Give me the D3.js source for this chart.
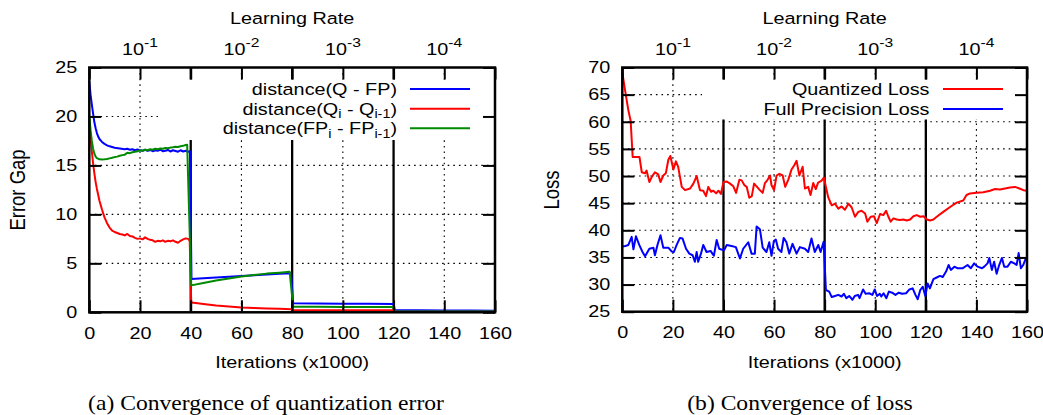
<!DOCTYPE html>
<html><head><meta charset="utf-8">
<script src="https://cdn.jsdelivr.net/npm/d3@7"></script>
<style>body{margin:0;background:#fff} text{white-space:pre}</style>
</head><body>
<svg id="c" width="1043" height="415"></svg>
<script>
// ---------- data ----------
const xTicks = [0,20,40,60,80,100,120,140,160];
const gridX = [20,60,100,140];
const phaseBounds = [40,80,120];
const lrTickPos = [20,60,100,140];
const lrExp = ["-1","-2","-3","-4"];
const errTicks = [0,5,10,15,20,25];
const lossTicks = [25,30,35,40,45,50,55,60,65,70];

const errLegend = [
  [{t:"distance(Q - FP)"}],
  [{t:"distance(Q"},{t:"i",sub:1},{t:" - Q"},{t:"i-1",sub:1},{t:")"}],
  [{t:"distance(FP"},{t:"i",sub:1},{t:" - FP"},{t:"i-1",sub:1},{t:")"}]
];
const lossLegend = ["Quantized Loss","Full Precision Loss"];

// distance(Q - FP)
const distQFP = [[0,23.6],[0.5,22.2],[1,21.2],[1.5,20.3],[2,19.4],[2.5,18.8],[3,18.3],[3.5,17.95],[4,17.7],[5,17.4],[6,17.2],[7,17.05],[8,16.95],[10,16.8],[12,16.72],[14,16.65],
[15,16.7],[16,16.6],[17,16.65],[18,16.55],[19,16.62],[20,16.55],[21,16.5],[22,16.6],[23,16.48],[24,16.58],[25,16.45],[26,16.55],[27,16.5],[28,16.62],[29,16.45],[30,16.5],[31,16.58],[32,16.42],[33,16.55],[34,16.48],[35,16.4],[36,16.55],[37,16.42],[38,16.5],[39,16.4],[39.7,16.45],
[40.3,3.4],[45,3.48],[50,3.56],[55,3.63],[60,3.7],[65,3.78],[70,3.85],[75,3.93],[79.6,4.0],[80.4,0.92],[90,0.9],[100,0.88],[110,0.87],[120,0.85],[120.5,0.22],[130,0.2],[140,0.19],[150,0.18],[160,0.17]];
// distance(Q_i - Q_i-1)
const distQ = [[0,19.5],[0.5,17.8],[1,16.4],[1.5,15.2],[2,14.2],[2.5,13.3],[3,12.6],[3.5,12.0],[4,11.4],[5,10.5],[6,9.7],[7,9.1],[8,8.65],[9,8.35],[10,8.2],[11,8.1],[12,8.0],[13,7.95],[14,7.85],[15,8.0],[16,7.8],[17,7.75],[18,7.6],[19,7.5],[20,7.55],[21,7.45],[22,7.65],[23,7.5],[24,7.4],[25,7.35],[26,7.2],[27,7.3],[28,7.25],[29,7.35],[30,7.2],[31,7.3],[32,7.25],[33,7.35],[34,7.2],[35,7.1],[36,7.3],[37,7.45],[38,7.55],[39,7.5],[39.6,7.3],
[40.2,1.0],[42,0.95],[45,0.85],[50,0.7],[55,0.6],[60,0.5],[65,0.45],[70,0.4],[75,0.35],[79.7,0.32],[80.3,0.23],[90,0.22],[100,0.21],[110,0.2],[119.8,0.2],[120.3,0.07],[130,0.06],[140,0.05],[150,0.05],[160,0.05]];
// distance(FP_i - FP_i-1)
const distFP = [[0,20.1],[0.5,18.6],[1,17.5],[1.5,16.7],[2,16.2],[2.5,15.9],[3,15.75],[4,15.62],[5,15.6],[6,15.62],[7,15.66],[8,15.72],[9,15.78],[10,15.85],[11,15.9],[12,15.98],[13,16.05],[14,16.1],[15,16.3],[16,16.25],[17,16.35],[18,16.4],[19,16.45],[20,16.55],[21,16.5],[22,16.6],[23,16.55],[24,16.65],[25,16.6],[26,16.7],[27,16.65],[28,16.72],[29,16.7],[30,16.78],[31,16.75],[32,16.82],[33,16.85],[34,16.9],[35,16.88],[36,16.95],[37,17.0],[38,17.08],[38.6,17.1],
[40.2,2.75],[45,3.0],[50,3.25],[55,3.45],[60,3.65],[65,3.8],[70,3.95],[75,4.05],[79,4.15],[80.4,0.57],[90,0.56],[100,0.55],[110,0.54],[119.8,0.53],[120.4,0.1],[130,0.09],[140,0.08],[150,0.08],[160,0.08]];

// Quantized Loss
const quantLoss = [[0,69.1],[1.1,65.8],[2.4,62.1],[3.3,60.2],[4.1,53.5],[6.8,53.5],[7.7,50.7],[9.0,50.5],[9.6,51.0],[10.7,48.9],[11.6,49.8],[12.9,50.7],[14.2,50.3],[15.1,48.9],[16.2,50.1],[17.2,50.5],[18.2,53.0],[19.0,53.7],[20.2,51.2],[21.2,52.7],[22.1,51.7],[23.5,48.0],[24.8,47.4],[26.8,47.7],[28.1,48.6],[29.4,50.0],[30.7,47.4],[32.0,47.3],[33.1,46.3],[34.0,48.0],[35.1,47.1],[36.0,47.3],[37.1,46.8],[38.0,47.3],[39.0,46.7],[40.0,48.9],[41.3,49.0],[42.6,48.6],[43.9,48.1],[45.0,46.9],[46.3,49.3],[47.2,49.2],[48.3,48.3],[49.2,48.0],[50.2,46.0],[51.2,46.3],[52.1,48.6],[53.1,48.1],[54.2,47.5],[55.5,46.9],[56.4,48.7],[57.3,49.2],[58.4,50.1],[59.0,48.3],[60.0,47.4],[61.0,50.1],[62.1,50.4],[63.4,50.1],[64.4,48.0],[65.6,49.3],[66.9,51.2],[68.0,52.0],[68.9,52.8],[70.0,50.1],[71.3,51.7],[72.2,47.7],[73.5,48.0],[74.4,46.5],[75.5,48.7],[76.5,47.6],[77.4,48.8],[78.7,49.1],[79.7,49.7],[80.5,48.0],[81.4,46.1],[82.8,44.6],[84.1,44.9],[85.4,44.0],[86.7,44.4],[88.0,43.8],[89.4,44.9],[90.7,44.2],[92.0,42.5],[93.3,43.4],[94.6,43.6],[96.0,43.1],[96.9,41.6],[98.2,42.5],[99.5,42.6],[100.6,41.3],[101.9,43.0],[103.2,42.8],[104.3,43.6],[105.2,42.5],[106.1,41.6],[107.2,42.2],[108.5,42.0],[109.8,41.9],[111.1,42.0],[112.5,41.8],[113.8,42.0],[115.1,42.6],[116.4,42.8],[117.8,42.5],[119.1,42.6],[120.4,42.0],[121.7,41.8],[123.0,42.0],[124.3,42.5],[126.9,43.4],[129.6,44.3],[132.2,45.1],[134.8,45.5],[136.1,46.5],[137.5,46.8],[140.1,46.9],[142.7,47.0],[145.4,47.3],[147.4,47.6],[149.3,47.5],[151.3,47.7],[153.3,47.9],[155.3,48.0],[157.0,47.7],[158.6,47.4],[160,47.3]];
// Full Precision Loss
const fpLoss = [[0,37.0],[1.2,37.1],[2.4,37.3],[3.7,38.8],[4.4,36.5],[5.4,38.9],[6.7,37.3],[8.0,36.0],[9.0,35.2],[10.7,36.6],[12.3,36.8],[12.9,35.4],[13.9,37.3],[15.1,39.1],[16.2,36.8],[18.2,36.8],[19.5,36.1],[20.4,36.0],[21.5,37.3],[22.8,38.6],[23.8,38.5],[25.2,36.6],[26.5,35.7],[27.8,35.4],[28.7,34.2],[29.4,36.0],[30.0,34.2],[31.1,35.7],[32.0,37.3],[33.3,36.0],[34.9,36.2],[36.2,35.3],[37.3,38.2],[38.3,36.6],[40.2,36.3],[41.3,37.3],[43.2,37.1],[44.9,36.9],[46.5,34.8],[47.8,36.6],[49.8,37.8],[51.1,35.7],[52.4,35.7],[53.1,40.7],[54.4,40.2],[55.5,36.8],[57.0,36.0],[58.1,37.8],[59.0,35.3],[59.9,38.0],[60.7,38.3],[61.6,36.6],[62.9,36.0],[63.8,38.6],[64.9,37.8],[66.0,35.7],[67.3,37.5],[68.9,35.7],[70.2,36.9],[72.2,36.6],[73.5,36.0],[74.8,38.5],[76.1,36.0],[77.5,37.3],[78.4,36.0],[79.6,37.9],[80.5,29.0],[81.8,28.7],[82.8,27.7],[84.1,27.9],[85.4,28.1],[86.7,27.8],[87.6,28.3],[88.6,27.5],[89.7,27.9],[91.0,27.2],[91.9,27.9],[93.2,28.1],[93.8,27.5],[95.2,29.1],[96.2,28.3],[97.6,28.4],[98.9,28.1],[99.8,29.1],[100.7,27.9],[101.8,28.3],[102.4,27.8],[103.3,28.4],[104.4,27.5],[105.4,28.7],[106.7,28.5],[108.0,28.1],[109.3,28.5],[110.6,28.3],[112.2,28.4],[113.5,29.1],[114.8,29.3],[115.9,28.1],[116.8,27.3],[117.8,29.0],[118.8,29.6],[119.8,27.9],[120.7,30.2],[121.6,29.3],[123.0,31.0],[124.3,31.3],[125.6,31.6],[126.7,31.4],[128.0,32.4],[129.0,33.6],[129.9,32.7],[131.3,33.3],[132.6,33.0],[134.5,33.0],[136.5,33.6],[137.8,33.0],[139.1,33.9],[140.5,33.3],[142.2,33.0],[143.1,33.3],[144.4,33.9],[145.1,34.9],[146.1,32.7],[147.0,34.2],[148.0,32.0],[149.0,33.6],[150.1,34.9],[151.0,33.3],[152.3,33.3],[153.6,34.2],[155.0,33.9],[155.9,33.6],[156.7,35.8],[157.6,33.0],[158.5,33.6],[159.6,34.9]];

// ---------- drawing ----------
const SANS = '"Liberation Sans", Arial, Helvetica, sans-serif';
const SERIF = '"Liberation Serif", "Times New Roman", serif';
const SX = 1.2, FS = 16.5;
const BLUE = "#0000ff", RED = "#ff0000", GREEN = "#008a00";
const svg = d3.select("#c");

function rich(parent, x, y, parts, o = {}) {
  const size = o.size || FS, sx = o.sx || SX;
  const g = parent.append("g").attr("transform",
    `translate(${x},${y}) scale(${sx},1)` + (o.rotate ? ` rotate(${o.rotate})` : ""));
  const t = g.append("text").attr("text-anchor", o.anchor || "middle")
    .attr("font-family", o.family || SANS).attr("font-size", size).attr("fill", "#000");
  let cur = 0;
  parts.forEach(p => {
    const target = p.sup ? -8 : p.sub ? 3.5 : 0;
    t.append("tspan").attr("dy", target - cur)
      .attr("font-size", p.sup ? 13 : p.sub ? 12 : size).text(p.t);
    cur = target;
  });
  return g;
}

function panel(cfg) {
  const yTop = 67.5, yBot = cfg.yBot;
  const x = d3.scaleLinear().domain([0, 160]).range([cfg.x0, cfg.x1]);
  const y = d3.scaleLinear().domain([cfg.yTicks[0], cfg.yTicks[cfg.yTicks.length - 1]]).range([yBot, yTop]);
  const g = svg.append("g");

  // dotted grid
  g.selectAll(".vg").data(gridX).join("line")
    .attr("x1", d => x(d)).attr("x2", d => x(d)).attr("y1", yTop).attr("y2", yBot)
    .attr("stroke", "#000").attr("stroke-width", 1.1).attr("stroke-dasharray", "1.6,4");
  g.selectAll(".hg").data(cfg.yTicks.slice(1, -1)).join("line")
    .attr("x1", cfg.x0).attr("x2", cfg.x1).attr("y1", d => y(d)).attr("y2", d => y(d))
    .attr("stroke", "#000").attr("stroke-width", 1.1).attr("stroke-dasharray", "1.6,4");

  // learning-rate phase boundaries
  g.selectAll(".ph").data(phaseBounds).join("line")
    .attr("x1", d => x(d)).attr("x2", d => x(d)).attr("y1", yTop).attr("y2", yBot)
    .attr("stroke", "#000").attr("stroke-width", 2.3);

  // series
  const line = d3.line().x(d => x(d[0])).y(d => y(d[1]));
  cfg.series.forEach(s => {
    g.append("path").datum(s.data).attr("d", line).attr("fill", "none")
      .attr("stroke", s.color).attr("stroke-width", 2).attr("stroke-linejoin", "round");
  });

  // opaque key box
  g.append("rect").attr("x", cfg.key.x0).attr("y", 79.5)
    .attr("width", cfg.key.x1 - cfg.key.x0).attr("height", cfg.key.y1 - 79.5).attr("fill", "#fff");

  // axes
  const styleAxis = (a) => {
    a.select(".domain").remove();
    a.attr("font-size", FS).attr("font-family", SANS);
    a.selectAll("line").attr("stroke", "#000").attr("stroke-width", 2);
    a.selectAll("text").attr("fill", "#000");
  };
  const ab = g.append("g").attr("transform", `translate(0,${yBot})`)
    .call(d3.axisBottom(x).tickValues(xTicks).tickSize(-12).tickSizeOuter(0).tickPadding(15));
  styleAxis(ab); ab.selectAll("text").attr("transform", `scale(${SX},1)`);
  const at = g.append("g").attr("transform", `translate(0,${yTop})`)
    .call(d3.axisTop(x).tickValues(xTicks).tickSize(-12).tickSizeOuter(0).tickFormat(""));
  styleAxis(at);
  const al = g.append("g").attr("transform", `translate(${cfg.x0},0)`)
    .call(d3.axisLeft(y).tickValues(cfg.yTicks).tickSize(-12).tickSizeOuter(0).tickPadding(10));
  styleAxis(al); al.selectAll("text").attr("transform", `scale(${SX},1)`);
  const ar = g.append("g").attr("transform", `translate(${cfg.x1},0)`)
    .call(d3.axisRight(y).tickValues(cfg.yTicks).tickSize(-12).tickSizeOuter(0).tickFormat(""));
  styleAxis(ar);

  g.append("rect").attr("x", cfg.x0).attr("y", yTop).attr("width", cfg.x1 - cfg.x0)
    .attr("height", yBot - yTop).attr("fill", "none").attr("stroke", "#000").attr("stroke-width", 2.5);

  // top learning-rate labels
  lrTickPos.forEach((p, i) => rich(g, x(p), 55, [{t: "10"}, {t: lrExp[i], sup: 1}]));
  rich(g, (cfg.x0 + cfg.x1) / 2, 24.3, [{t: "Learning Rate"}]);
  rich(g, (cfg.x0 + cfg.x1) / 2, 368, [{t: "Iterations (x1000)"}]);
  rich(g, cfg.yLabelX, 190, [{t: cfg.yLabel}], {rotate: -90, size: 18.5});

  // key entries
  cfg.keyRows.forEach((r, i) => {
    rich(g, cfg.key.textX, r.y + 6, r.parts, {anchor: "end"});
    g.append("line").attr("x1", cfg.key.lx0).attr("x2", cfg.key.lx1).attr("y1", r.y).attr("y2", r.y)
      .attr("stroke", r.color).attr("stroke-width", 2);
  });

  rich(svg, cfg.capX, 410, [{t: cfg.caption}], {family: SERIF, size: 20, sx: 1.18});
}

panel({
  x0: 89.3, x1: 495, yBot: 312.3, yTicks: errTicks, yLabel: "Error Gap", yLabelX: 24.5,
  series: [{data: distQFP, color: BLUE}, {data: distQ, color: RED}, {data: distFP, color: GREEN}],
  key: {x0: 158, x1: 493.5, y1: 140, textX: 397, lx0: 410, lx1: 470},
  keyRows: [{y: 89, parts: errLegend[0], color: BLUE}, {y: 108.7, parts: errLegend[1], color: RED}, {y: 128.3, parts: errLegend[2], color: GREEN}],
  caption: "(a) Convergence of quantization error", capX: 266
});
panel({
  x0: 622.3, x1: 1027, yBot: 311.7, yTicks: lossTicks, yLabel: "Loss", yLabelX: 559,
  series: [{data: quantLoss, color: RED}, {data: fpLoss, color: BLUE}],
  key: {x0: 702, x1: 1025.5, y1: 119.5, textX: 929.5, lx0: 943, lx1: 1003},
  keyRows: [{y: 89, parts: [{t: lossLegend[0]}], color: RED}, {y: 109, parts: [{t: lossLegend[1]}], color: BLUE}],
  caption: "(b) Convergence of loss", capX: 800
});
</script>
</body></html>
